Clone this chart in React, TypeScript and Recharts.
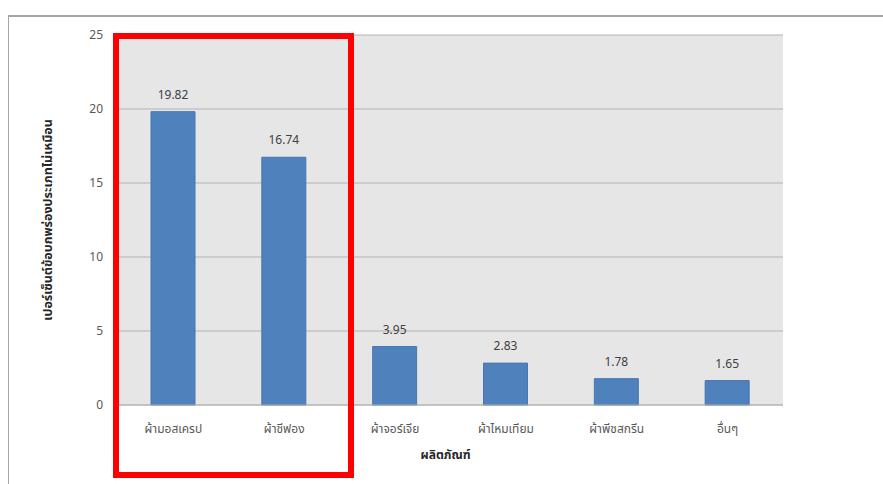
import { BarChart, Bar, XAxis, YAxis, CartesianGrid, LabelList } from 'recharts';

// Share of products by category
const categories = ['ผ้ามอสเครป', 'ผ้าชีฟอง', 'ผ้าจอร์เจีย', 'ผ้าไหมเทียม', 'ผ้าพีชสกรีน', 'อื่นๆ'];
const percents = [19.82, 16.74, 3.95, 2.83, 1.78, 1.65];
const yTicks = [0, 5, 10, 15, 20, 25];

const data = categories.map((name, i) => ({ name, value: percents[i] }));

const font = "Tahoma, 'Noto Sans Thai', 'Noto Sans', 'DejaVu Sans', sans-serif";

export default function App() {
  return (
    <div style={{ position: 'absolute', left: 0, top: 0, width: 883, height: 484, background: '#fff' }}>
      {/* outer frame */}
      <div
        style={{
          position: 'absolute',
          left: 8,
          top: 15,
          width: 875,
          height: 469,
          borderTop: '2px solid #a6a6a6',
          borderLeft: '1px solid #a6a6a6',
        }}
      />
      <BarChart
        width={883}
        height={484}
        data={data}
        margin={{ top: 35, right: 100, bottom: 0, left: 0 }}
        style={{ position: 'absolute', left: 0, top: 0, fontFamily: font }}
      >
        <CartesianGrid vertical={false} stroke="#b3b3b3" fill="#e6e6e6" />
        <XAxis
          dataKey="name"
          height={79}
          tickLine={false}
          tickSize={0}
          tickMargin={19}
          axisLine={{ stroke: '#b3b3b3' }}
          tick={{ fill: '#595959', fontSize: 12 }}
          interval={0}
          label={{
            value: 'ผลิตภัณฑ์',
            position: 'insideBottom',
            offset: 25,
            dx: -5,
            style: { fontWeight: 'bold', fill: '#262626', fontSize: 12 },
          }}
        />
        <YAxis
          width={118}
          domain={[0, 25]}
          ticks={yTicks}
          tickLine={false}
          axisLine={false}
          tickSize={0}
          tickMargin={15}
          tick={{ fill: '#595959', fontSize: 12 }}
          label={{
            value: 'เปอร์เซ็นต์ข้อบกพร่องประเภทไม่เหมือน',
            angle: -90,
            position: 'insideLeft',
            offset: 48,
            style: { textAnchor: 'middle', fontWeight: 'bold', fill: '#262626', fontSize: 12.5 },
          }}
        />
        <Bar dataKey="value" fill="#4f81bd" stroke="#4677b0" barSize={44} isAnimationActive={false}>
          <LabelList dataKey="value" position="top" offset={13} fill="#404040" fontSize={12} />
        </Bar>
      </BarChart>
      {/* highlight around the two leading categories */}
      <div
        style={{
          position: 'absolute',
          left: 113,
          top: 33,
          width: 229,
          height: 433,
          border: '6px solid #ff0000',
        }}
      />
    </div>
  );
}
